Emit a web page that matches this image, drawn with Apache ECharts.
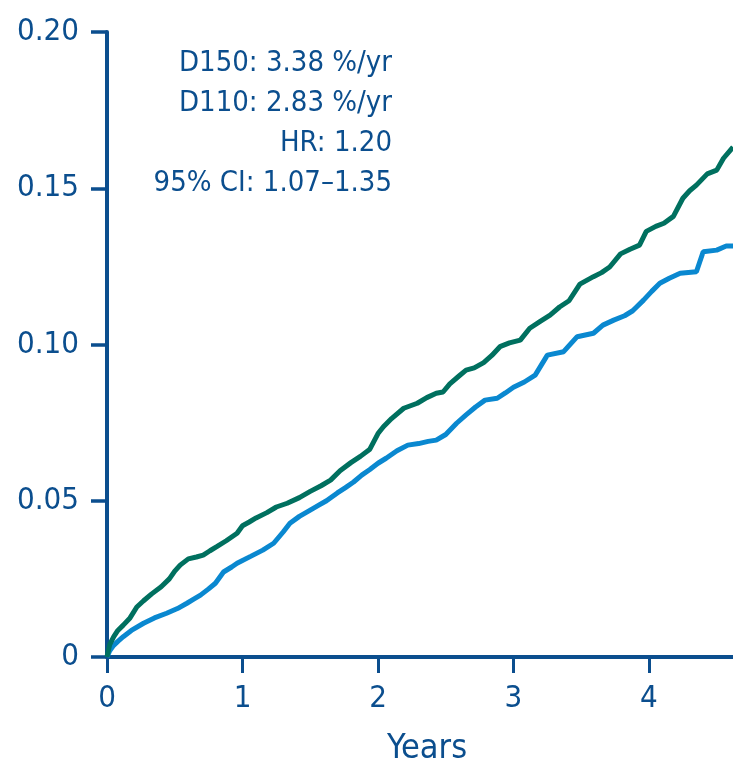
<!DOCTYPE html>
<html>
<head>
<meta charset="utf-8">
<script src="https://cdn.jsdelivr.net/npm/echarts@6/dist/echarts.min.js"></script>
<style>
    html, body { margin: 0; padding: 0; background: #fff; }
    #chart { width: 733px; height: 764px; }
</style>
</head>
<body>
<div id="chart"></div>
<script>
// D150 (green)
var d150Years = [0, 0.02, 0.05, 0.08, 0.12, 0.17, 0.22, 0.27, 0.33, 0.40, 0.46, 0.50, 0.54, 0.60, 0.66, 0.71, 0.76, 0.81, 0.88, 0.96,
    1.00, 1.05, 1.10, 1.18, 1.25, 1.33, 1.42, 1.50, 1.58, 1.65, 1.72, 1.80, 1.87, 1.94,
    2.00, 2.04, 2.10, 2.19, 2.29, 2.36, 2.43, 2.48, 2.53, 2.60, 2.65, 2.71, 2.78, 2.84, 2.90, 2.97,
    3.05, 3.12, 3.20, 3.27, 3.34, 3.41, 3.49, 3.59, 3.65, 3.71, 3.79, 3.86, 3.93, 3.98,
    4.05, 4.11, 4.18, 4.25, 4.30, 4.35, 4.43, 4.50, 4.55, 4.62];
var d150Values = [0, 0.004, 0.0065, 0.0085, 0.0102, 0.0125, 0.016, 0.018, 0.0202, 0.0225, 0.025, 0.0275, 0.0294, 0.0314, 0.032, 0.0326, 0.034, 0.0353, 0.0372, 0.0396,
    0.042, 0.0432, 0.0445, 0.0462, 0.048, 0.0492, 0.051, 0.053, 0.0548, 0.0566, 0.0596, 0.0622, 0.0642, 0.0665,
    0.0715, 0.0737, 0.0763, 0.0796, 0.0812, 0.083, 0.0844, 0.0848, 0.0874, 0.09, 0.0918, 0.0925, 0.0942, 0.0965, 0.0993, 0.1005,
    0.1014, 0.1052, 0.1075, 0.1094, 0.112, 0.114, 0.1193, 0.1217, 0.123, 0.1248, 0.129, 0.1305, 0.1318, 0.1362,
    0.1378, 0.1388, 0.141, 0.1468, 0.1492, 0.151, 0.1546, 0.1558, 0.1596, 0.1632];

// D110 (blue)
var d110Years = [0, 0.02, 0.045, 0.08, 0.12, 0.18, 0.27, 0.35, 0.44, 0.52, 0.59, 0.64, 0.69, 0.75, 0.80, 0.86, 0.92, 0.96,
    1.06, 1.15, 1.23, 1.30, 1.35, 1.42, 1.50, 1.56, 1.62, 1.70, 1.76, 1.82, 1.88, 1.94,
    2.00, 2.06, 2.14, 2.22, 2.30, 2.37, 2.43, 2.50, 2.58, 2.65, 2.72, 2.79, 2.88, 2.94,
    3.00, 3.08, 3.16, 3.25, 3.37, 3.47, 3.59, 3.66, 3.74, 3.82, 3.88, 3.96,
    4.02, 4.08, 4.15, 4.23, 4.35, 4.40, 4.50, 4.57, 4.62];
var d110Values = [0, 0.002, 0.0035, 0.005, 0.0065, 0.0085, 0.0108, 0.0125, 0.014, 0.0155, 0.0172, 0.0185, 0.0198, 0.0218, 0.0236, 0.0272, 0.0288, 0.03,
    0.0322, 0.0342, 0.0364, 0.04, 0.0428, 0.045, 0.047, 0.0485, 0.05, 0.0525, 0.0542, 0.056, 0.0582, 0.06,
    0.062, 0.0636, 0.066, 0.0678, 0.0683, 0.069, 0.0694, 0.0712, 0.0748, 0.0775, 0.08, 0.0822, 0.0828, 0.0845,
    0.0863, 0.088, 0.0902, 0.0966, 0.0977, 0.1025, 0.1036, 0.1062, 0.1078, 0.1092, 0.1108, 0.1142,
    0.117, 0.1196, 0.1212, 0.1228, 0.1233, 0.1297, 0.1302, 0.1315, 0.1315];

var xTicks = [0, 1, 2, 3, 4];
var statLines = ['D150: 3.38 %/yr', 'D110: 2.83 %/yr', 'HR: 1.20', '95% CI: 1.07\u20131.35'];

function pairs(xs, ys) {
    var out = [];
    for (var i = 0; i < xs.length; i++) {
        out.push([xs[i], ys[i]]);
    }
    return out;
}

var axisColor = '#0b4e8e';
var font = '"DejaVu Sans Condensed", "DejaVu Sans", sans-serif';

var myChart = echarts.init(document.getElementById('chart'));

var option = {
    animation: false,
    grid: { left: 107, right: 0, top: 32, bottom: 107, outerBoundsMode: 'none' },
    xAxis: {
        type: 'value',
        min: 0,
        max: 4.62,
        name: 'Years',
        nameLocation: 'middle',
        nameGap: 75,
        nameTextStyle: { color: axisColor, fontSize: 34, fontFamily: font, padding: [0, 0, 0, 14] },
        axisLine: { show: true, lineStyle: { color: axisColor, width: 4 } },
        axisTick: { show: true, customValues: xTicks, length: 16, lineStyle: { color: axisColor, width: 3 } },
        axisLabel: { customValues: xTicks, margin: 26, color: axisColor, fontSize: 31, fontFamily: font },
        splitLine: { show: false }
    },
    yAxis: {
        type: 'value',
        min: 0,
        max: 0.2,
        interval: 0.05,
        axisLine: { show: true, lineStyle: { color: axisColor, width: 4 } },
        axisTick: { show: true, length: 16, lineStyle: { color: axisColor, width: 3.5 } },
        axisLabel: {
            margin: 28,
            color: axisColor,
            fontSize: 31,
            fontFamily: font,
            padding: [0, 0, 6, 0],
            formatter: function (v) { return v === 0 ? '0' : v.toFixed(2); }
        },
        splitLine: { show: false }
    },
    graphic: [{
        type: 'text',
        x: 392,
        y: 43,
        style: {
            text: statLines.join('\n'),
            fill: axisColor,
            font: '29px ' + font,
            align: 'right',
            verticalAlign: 'top',
            lineHeight: 40
        }
    }],
    series: [
        {
            name: 'D150',
            type: 'line',
            showSymbol: false,
            lineStyle: { color: '#00705f', width: 5 },
            data: pairs(d150Years, d150Values),
            z: 3
        },
        {
            name: 'D110',
            type: 'line',
            showSymbol: false,
            lineStyle: { color: '#0a88d0', width: 5 },
            data: pairs(d110Years, d110Values),
            z: 2
        }
    ]
};

myChart.setOption(option);
</script>
</body>
</html>
